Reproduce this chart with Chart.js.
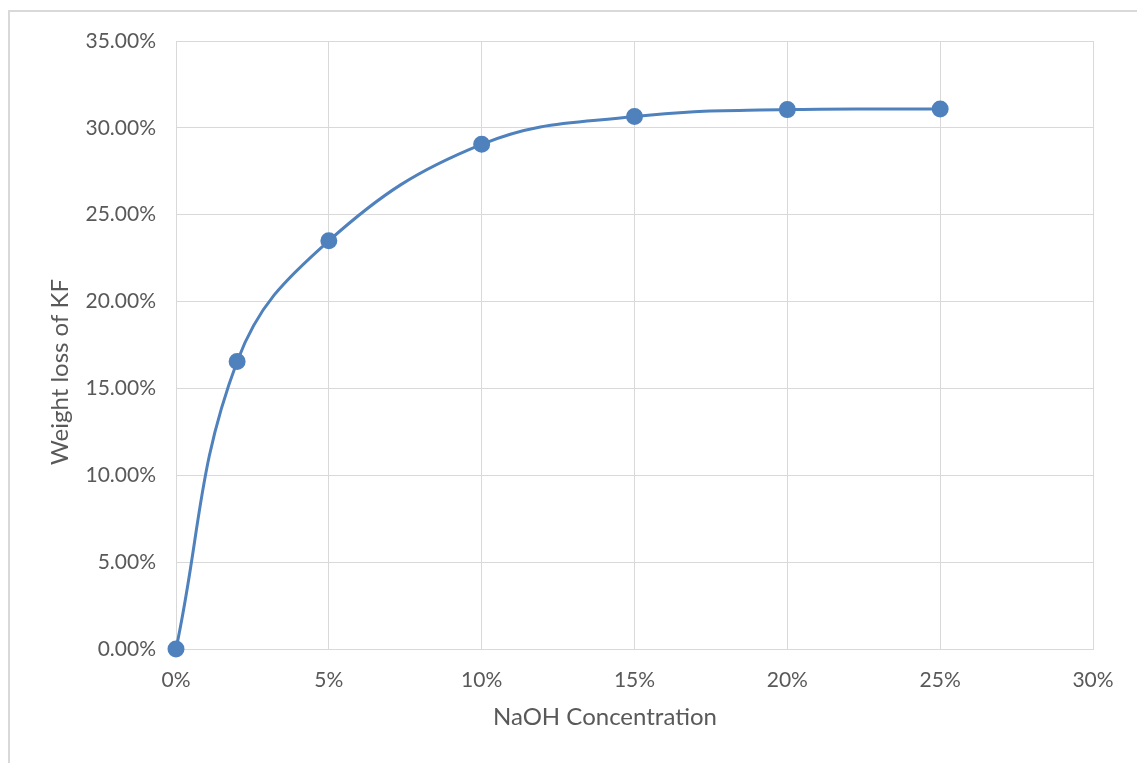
<!doctype html>
<html lang="en">
<head>
  <meta charset="UTF-8">
  <title>Weight loss of KF</title>
  <script src="https://cdn.jsdelivr.net/npm/chart.js@4/dist/chart.umd.min.js"></script>
  <style>
    html, body { margin: 0; padding: 0; background: #fff; overflow: hidden; }
    .frame { position: absolute; left: 8px; top: 10px; width: 1140px; height: 770px; border: 2px solid #d9d9d9; box-sizing: border-box; }
    .canvas-container { position: absolute; left: 0; top: 0; width: 1137px; height: 763px; }
  </style>
</head>
<body>
  <div class="frame"></div>
  <div class="canvas-container">
    <canvas id="kfChart"></canvas>
  </div>
<script>
  // NaOH concentration (%) vs weight loss of KF (%)
  const naohConc = [0, 2, 5, 10, 15, 20, 25];
  const weightLoss = [0, 16.55, 23.5, 29.05, 30.65, 31.05, 31.08];
  const xTitle = 'NaOH Concentration';
  const yTitle = 'Weight loss of KF';

  const textColor = '#595959';
  const gridColor = '#d9d9d9';
  const lineColor = '#4f81bd';
  const fontFamily = "Lato, 'Open Sans', sans-serif";

  let points = naohConc.map((x, i) => ({ x: x, y: weightLoss[i] }));

  // axis titles, placed like the Excel original (a bit off the plot centre)
  const axisTitles = {
    id: 'axisTitles',
    afterDraw(chart) {
      const c = chart.ctx;
      const area = chart.chartArea;
      c.save();
      c.fillStyle = textColor;
      c.font = '24px ' + fontFamily;
      c.textAlign = 'center';
      c.textBaseline = 'middle';
      c.fillText(xTitle, area.left + 429, area.bottom + 68);
      c.translate(area.left - 116, area.top + 331);
      c.rotate(-Math.PI / 2);
      c.fillText(yTitle, 0, 0);
      c.restore();
    }
  };

  let ctx = document.getElementById('kfChart');
  new Chart(ctx, {
    type: 'line',
    data: {
      datasets: [{
        data: points,
        borderColor: lineColor,
        backgroundColor: lineColor,
        borderWidth: 3,
        pointRadius: 7,
        pointHoverRadius: 7,
        tension: 0.4,
        fill: false,
        clip: false
      }]
    },
    options: {
      responsive: true,
      maintainAspectRatio: false,
      animation: false,
      layout: { padding: { left: 8, top: 41, right: 44, bottom: 0 } },
      plugins: { legend: { display: false }, tooltip: { enabled: false } },
      scales: {
        x: {
          type: 'linear',
          min: 0,
          max: 30,
          ticks: {
            stepSize: 5,
            color: textColor,
            font: { family: fontFamily, size: 21 },
            padding: 19,
            callback: v => v + '%'
          },
          grid: { color: gridColor, drawTicks: false, lineWidth: 1 },
          border: { color: gridColor },
          afterFit: scale => { scale.height = 114; }
        },
        y: {
          min: 0,
          max: 35,
          ticks: {
            stepSize: 5,
            color: textColor,
            font: { family: fontFamily, size: 21 },
            padding: 20,
            callback: v => v.toFixed(2) + '%'
          },
          grid: { color: gridColor, drawTicks: false, lineWidth: 1 },
          border: { color: gridColor },
          afterFit: scale => { scale.width = 168; }
        }
      }
    },
    plugins: [axisTitles]
  });
</script>
</body>
</html>
